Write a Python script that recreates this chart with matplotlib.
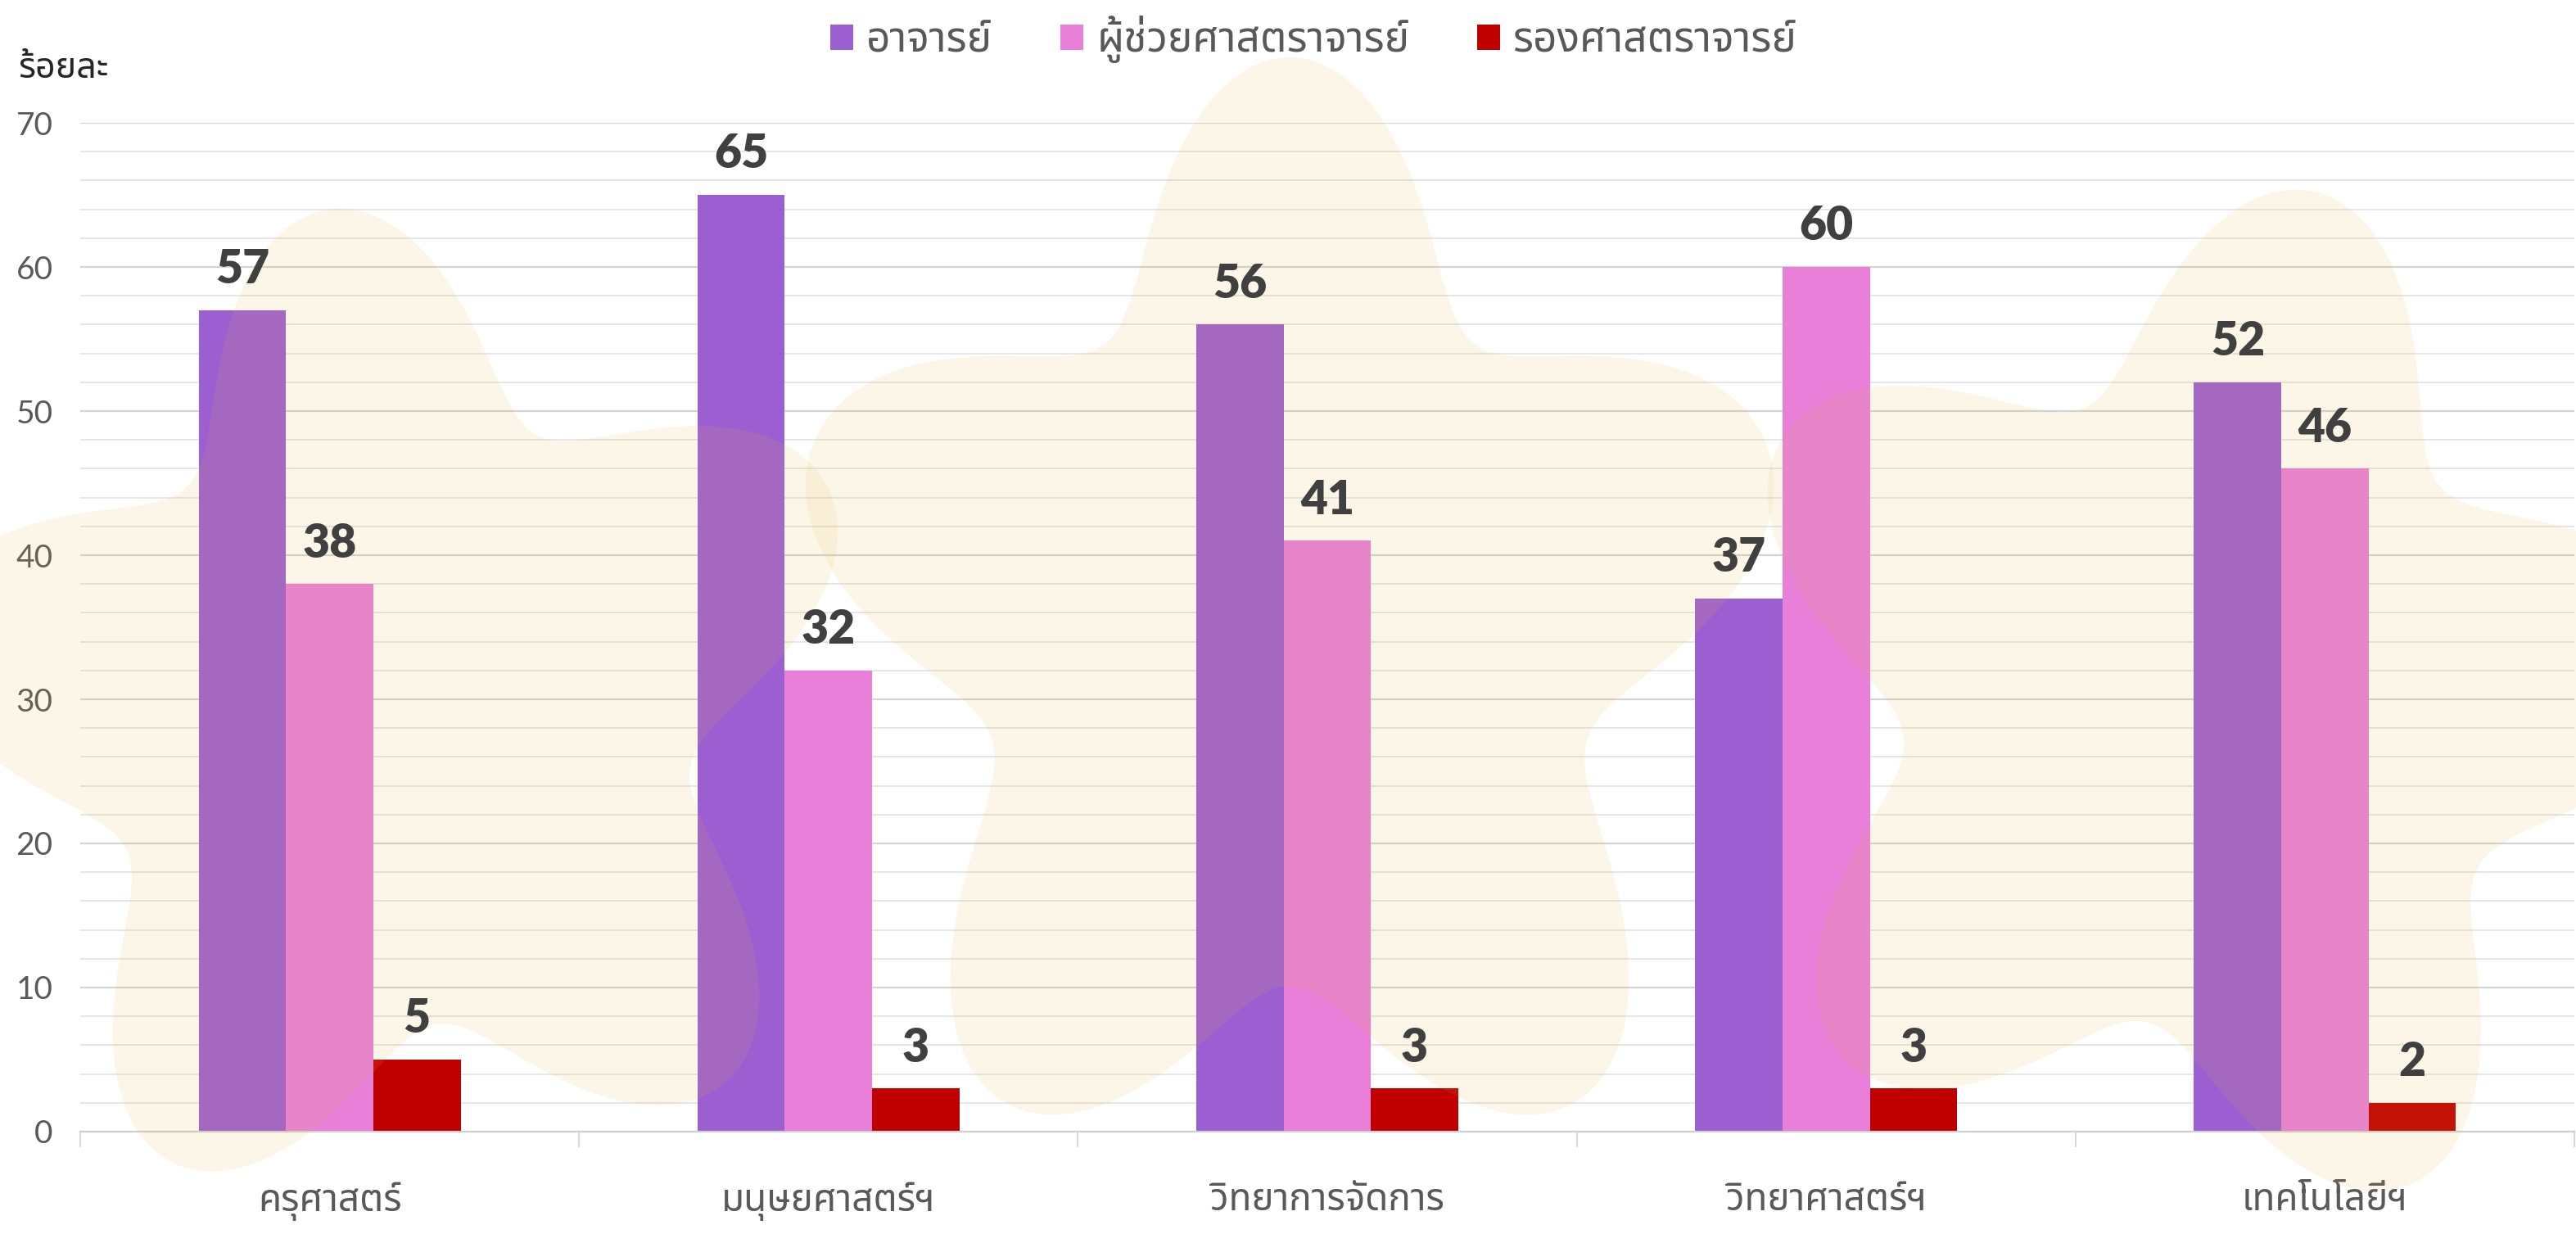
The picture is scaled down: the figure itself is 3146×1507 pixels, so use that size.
import matplotlib
matplotlib.use("Agg")
import matplotlib.pyplot as plt
import numpy as np
from matplotlib import font_manager
from matplotlib.ft2font import FT2Font
from matplotlib.patches import Polygon
from matplotlib.ticker import MultipleLocator

categories = ["ครุศาสตร์", "มนุษยศาสตร์ฯ", "วิทยาการจัดการ", "วิทยาศาสตร์ฯ", "เทคโนโลยีฯ"]
series_names = ["อาจารย์", "ผู้ช่วยศาสตราจารย์", "รองศาสตราจารย์"]
lecturer = [57, 65, 56, 37, 52]
asst_prof = [38, 32, 41, 60, 46]
assoc_prof = [5, 3, 3, 3, 2]
colors = ["#9c5fd2", "#e97fd9", "#c00000"]
y_label = "ร้อยละ"

# watermark stars behind the chart: centre x, centre y (px), radius (px), rotation (deg), x squash
stars = [(483, 870, 620, -8, 0.95), (1575, 770, 700, 0, 0.88), (2700, 860, 640, 12, 0.95)]

W, H = 3146, 1507


def find_thai_family():
    preferred = ["Noto Sans Thai", "Noto Sans Thai Looped", "Sarabun", "TH Sarabun New",
                 "Loma", "Garuda", "Waree", "Tlwg Typo", "Umpush", "Kinnari", "Norasi"]
    found = []
    for f in font_manager.fontManager.ttflist:
        try:
            if 0x0E01 in FT2Font(f.fname).get_charmap():
                found.append(f.name)
        except Exception:
            pass
    for name in preferred:
        if name in found:
            return name
    return found[0] if found else None


thai = find_thai_family()
thai_fam = [thai, "DejaVu Sans"] if thai else ["DejaVu Sans"]
num_fam = ["Lato", "DejaVu Sans"]

fig = plt.figure(figsize=(W / 100, H / 100), dpi=100)
ax = fig.add_axes([98 / W, 1 - 1382 / H, (3144 - 98) / W, (1382 - 150) / H])

x = np.arange(len(categories))
bw = 0.175
series = [lecturer, asst_prof, assoc_prof]
containers = []
for i, (vals, col) in enumerate(zip(series, colors)):
    bars = ax.bar(x + (i - 1) * bw, vals, width=bw, color=col, zorder=2)
    containers.append(bars)
    for xi, v in zip(x + (i - 1) * bw, vals):
        ax.annotate(str(v), (xi, v), xytext=(0, 17), textcoords="offset points",
                    ha="center", va="bottom", fontsize=41, fontweight="heavy",
                    color="#404040", family=num_fam, zorder=6)

ax.set_xlim(-0.5, len(categories) - 0.5)
ax.set_ylim(0, 70)
ax.yaxis.set_major_locator(MultipleLocator(10))
ax.yaxis.set_minor_locator(MultipleLocator(2))
ax.grid(which="major", axis="y", color="#d4d4d4", lw=1.6, zorder=0)
ax.grid(which="minor", axis="y", color="#e4e4e4", lw=1.3, zorder=0)
ax.set_axisbelow(True)

ax.set_xticks(x)
ax.set_xticklabels(categories, family=thai_fam, fontsize=33, color="#595959")
ax.set_xticks(np.arange(-0.5, len(categories), 1), minor=True)
ax.tick_params(axis="x", which="major", length=0, pad=44)
ax.tick_params(axis="x", which="minor", length=14, width=1.5, color="#d9d9d9")
ax.tick_params(axis="y", which="both", length=0, pad=24, labelsize=28, labelcolor="#595959")
for lab in ax.get_yticklabels():
    lab.set_family(num_fam)

for s in ["top", "right", "left"]:
    ax.spines[s].set_visible(False)
ax.spines["bottom"].set_color("#d0d0d0")
ax.spines["bottom"].set_linewidth(1.6)
ax.patch.set_alpha(0)

# beige logo watermark (rounded five-point stars), over the bars with low alpha
phi = np.linspace(0, 2 * np.pi, 720)
for cx, cy, r0, rot, sq in stars:
    r = r0 * (0.81 + 0.19 * np.cos(5 * (phi - np.deg2rad(-90 + rot))))
    px = cx + sq * r * np.cos(phi)
    py = cy + r * np.sin(phi)
    verts = np.column_stack([px / W, 1 - py / H])
    ax.add_patch(Polygon(verts, closed=True, transform=fig.transFigure,
                         facecolor="#e8b23f", edgecolor="none", alpha=0.11,
                         zorder=3, clip_on=False))

fig.text(22 / W, 1 - 84 / H, y_label, ha="left", va="center", fontsize=31,
         color="#262626", family=thai_fam, fontweight="medium")

fig.legend([c[0] for c in containers], series_names, loc="center",
           bbox_to_anchor=(0.51, 0.968), ncol=3, frameon=False,
           prop={"family": thai_fam, "size": 37}, labelcolor="#595959",
           handlelength=0.55, handleheight=0.55, handletextpad=0.32, columnspacing=1.6)

fig.savefig("out.png", dpi=100, facecolor="white")
